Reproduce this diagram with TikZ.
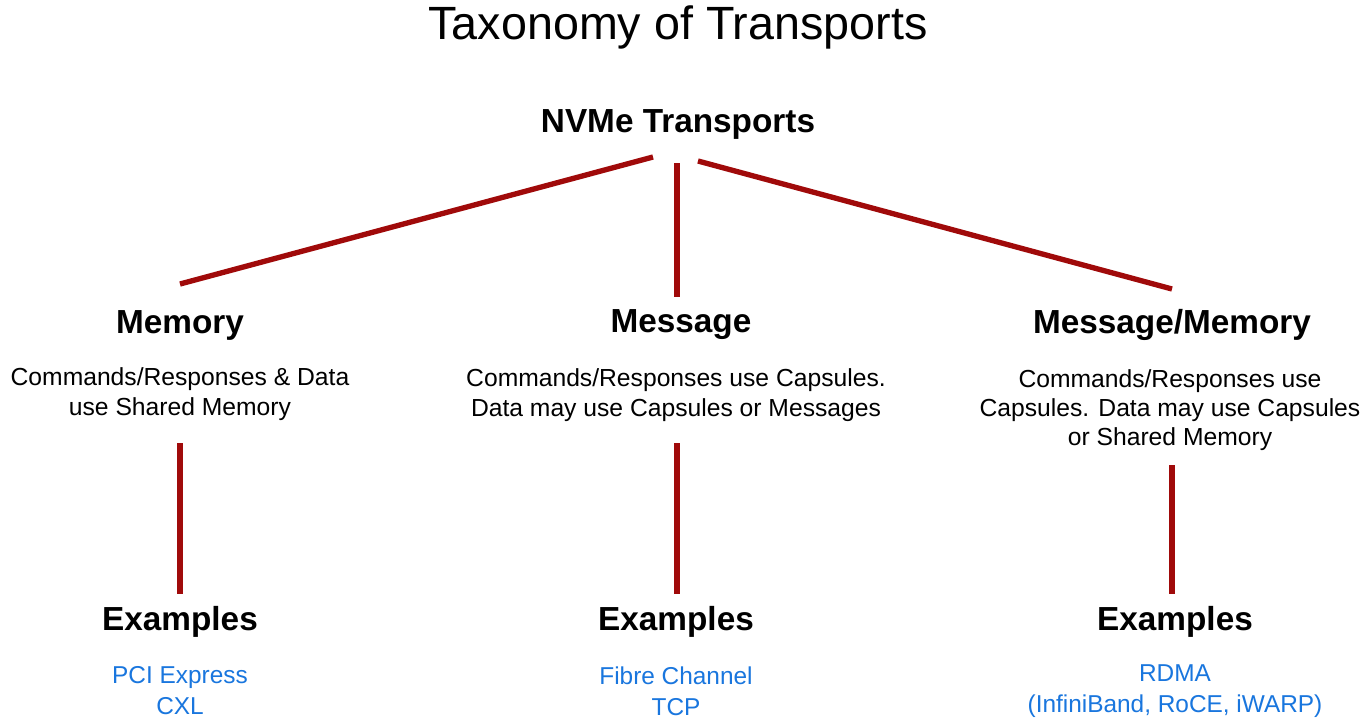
\documentclass[tikz,border=0pt]{standalone}
\usepackage{fontspec}
\setmainfont{Liberation Sans}
\definecolor{linered}{RGB}{160,10,10}
\definecolor{linkblue}{RGB}{25,118,222}
\begin{document}
\begin{tikzpicture}[x=0.75pt,y=-0.75pt,
  conn/.style={draw=linered,line width=4pt},
  title/.style={font=\fontsize{35}{40}\selectfont,inner sep=0pt},
  head/.style={font=\fontsize{25}{30}\selectfont\bfseries,inner sep=0pt},
  desc/.style={font=\fontsize{18.5}{22}\selectfont,align=center,inner sep=0pt},
  exmp/.style={font=\fontsize{18.3}{23.3}\selectfont,align=center,inner sep=0pt,text=linkblue}]
\useasboundingbox[fill=white] (0,0) rectangle (1363,719);
\node[title] (t) at (678,27) {Taxonomy of Transports};
\node[head] (root) at (678,124) {NVMe Transports};
\node[head] (mem) at (180,325) {Memory};
\node[head] (msg) at (681,325) {Message};
\node[head] (mm) at (1172,325) {Message/Memory};
\node[desc] (memd) at (180,394) {Commands/Responses \& Data\\use Shared Memory};
\node[desc] (msgd) at (676,395) {Commands/Responses use Capsules.\\Data may use Capsules or Messages};
\node[desc] (mmd) at (1170,410) {Commands/Responses use\\Capsules. Data may use Capsules\\or Shared Memory};
\node[head] (ex1) at (180,622) {Examples};
\node[head] (ex2) at (676,622) {Examples};
\node[head] (ex3) at (1175,622) {Examples};
\node[exmp] (l1) at (180,691) {PCI Express\\CXL};
\node[exmp] (l2) at (676,691) {Fibre Channel\\TCP};
\node[exmp] (l3) at (1175,691) {RDMA\\(InfiniBand, RoCE, iWARP)};
\coordinate (r1) at (653,157);
\coordinate (r2) at (677,163);
\coordinate (r3) at (698,161);
\coordinate (m1) at (180,284);
\coordinate (m2) at (677,297);
\coordinate (m3) at (1172,289);
\coordinate (d1) at (180,443);
\coordinate (d2) at (677,443);
\coordinate (d3) at (1172,465);
\coordinate (e1) at (180,594);
\coordinate (e2) at (677,594);
\coordinate (e3) at (1172,594);
\draw[conn] (r1) -- (m1);
\draw[conn] (r2) -- (m2);
\draw[conn] (r3) -- (m3);
\draw[conn] (d1) -- (e1);
\draw[conn] (d2) -- (e2);
\draw[conn] (d3) -- (e3);
\end{tikzpicture}
\end{document}
